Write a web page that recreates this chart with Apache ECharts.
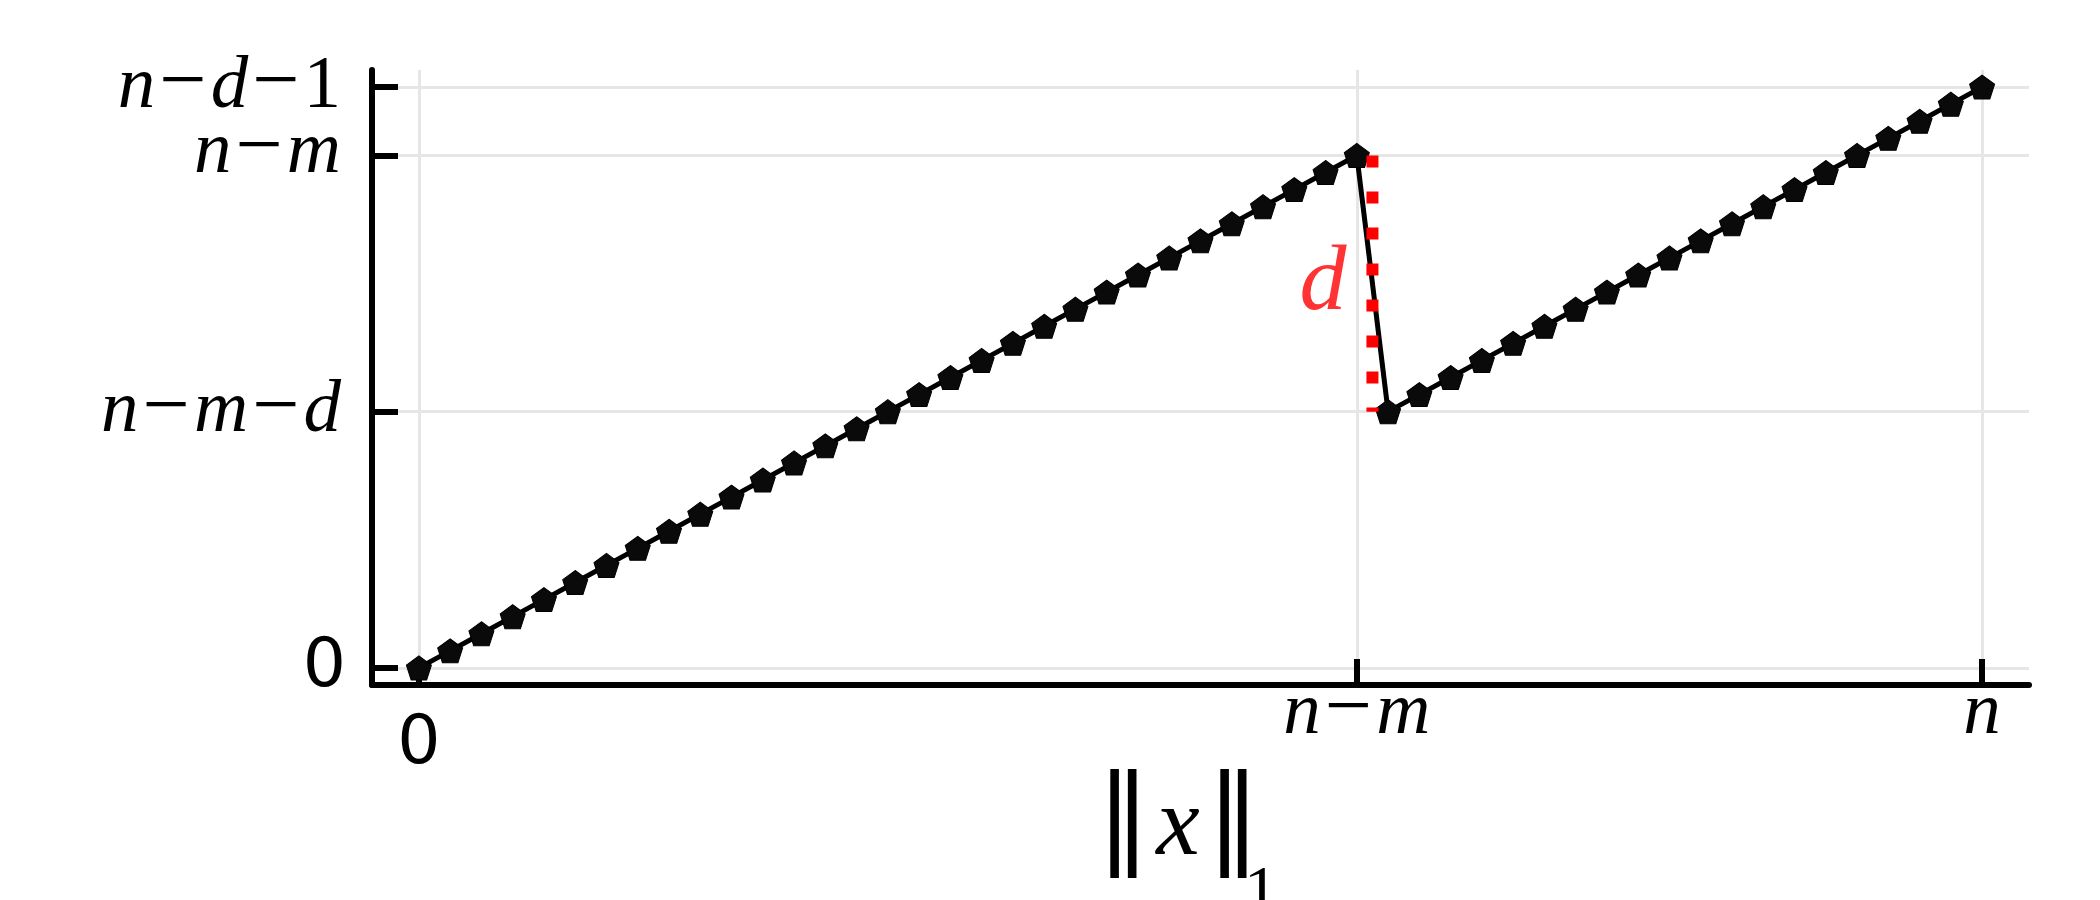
<!DOCTYPE html>
<html>
<head>
<meta charset="utf-8">
<script src="https://cdn.jsdelivr.net/npm/echarts@6/dist/echarts.min.js"></script>
<style>html,body{margin:0;padding:0;background:#fff}#c{width:2100px;height:900px}</style>
</head>
<body>
<div id="c"></div>
<script>
// ---- data ----
const xValues = [0,1,2,3,4,5,6,7,8,9,10,11,12,13,14,15,16,17,18,19,20,21,22,23,24,25,26,27,28,29,30,31,32,33,34,35,36,37,38,39,40,41,42,43,44,45,46,47,48,49,50];
const yValues = [0,1,2,3,4,5,6,7,8,9,10,11,12,13,14,15,16,17,18,19,20,21,22,23,24,25,26,27,28,29,30,15,16,17,18,19,20,21,22,23,24,25,26,27,28,29,30,31,32,33,34];
const xTickValues = [0, 30, 50];
const xTickLabels = ['0', 'n−m', 'n'];
const yTickValues = [0, 15, 30, 34];
const yTickLabels = ['0', 'n−m−d', 'n−m', 'n−d−1'];
const jumpGuideX = [30.5, 30.5];
const jumpGuideY = [30, 15];
const jumpLabel = 'd';
const jumpLabelPos = [28.92, 22.44];

// ---- label helpers ----
const SERIF = 'Liberation Serif';
const SANS = 'DejaVu Sans';
function kindOf(ch, label) {
  if (ch === '−') return 'mi';
  if (/[0-9]/.test(ch)) return label === '0' ? 'zs' : 'rm';
  return 'it';
}
function richLabel(label, key) {
  let out = '';
  for (const ch of label) out += '{' + kindOf(ch, label) + key + '|' + ch + '}';
  return out;
}
function makeRich(keys, pads) {
  const rich = {};
  keys.forEach((k, i) => {
    const p = pads[i];
    rich['it' + k] = {fontFamily: SERIF, fontStyle: 'italic', fontSize: 75, color: '#000', lineHeight: 40, padding: [p[0], 0, p[2], 0]};
    rich['rm' + k] = {fontFamily: SERIF, fontSize: 75, color: '#000', lineHeight: 40, padding: [p[0], 0, p[2], 0]};
    rich['mi' + k] = {fontFamily: SERIF, fontSize: 84, color: '#000', lineHeight: 40, padding: [p[0], 4, p[2] + 4, 4]};
    rich['zs' + k] = {fontFamily: SANS, fontSize: 68, color: '#000', lineHeight: 40, padding: p};
  });
  return rich;
}
const xKeys = xTickLabels.map((_, i) => 'x' + i);
const yKeys = yTickLabels.map((_, i) => 'y' + i);
const xPads = [[64, 0, 0, 0], [0, 0, 0, 0], [0, 0, 0, 0]];
const yPads = [[0, -5, 0, 0], [0, 0, 0, 0], [0, 0, 6, 0], [0, 0, 0, 0]];
function xFmt(v) { const i = xTickValues.indexOf(v); return i < 0 ? '' : richLabel(xTickLabels[i], xKeys[i]); }
function yFmt(v) { const i = yTickValues.indexOf(v); return i < 0 ? '' : richLabel(yTickLabels[i], yKeys[i]); }
const yMainTicks = yTickValues.slice(0, 3);
const yTopTicks = yTickValues.slice(3);

const pentagon = 'path://M0,-10L9.511,-3.09L5.878,8.09L-5.878,8.09L-9.511,-3.09Z';
const gridLine = {show: true, lineStyle: {color: '#e6e6e6', width: 3}};
const tickStyle = {color: '#000', width: 6};

function yAxisFor(ticks, showLine) {
  return {
    type: 'value', min: -1, max: 35, position: 'left', offset: 0,
    axisLine: {show: showLine, onZero: false, lineStyle: {color: '#000', width: 6}},
    axisTick: {show: true, inside: true, length: 26, customValues: ticks, lineStyle: tickStyle},
    axisLabel: {show: true, customValues: ticks, margin: 31, hideOverlap: false, formatter: yFmt, rich: makeRich(yKeys, yPads)},
    splitLine: gridLine
  };
}

const chart = echarts.init(document.getElementById('c'), null, {renderer: 'canvas'});
chart.setOption({
  animation: false,
  backgroundColor: '#fff',
  grid: {left: 372, right: 71, top: 70, bottom: 215, containLabel: false},
  xAxis: {
    type: 'value', min: -1.5, max: 51.5,
    axisLine: {onZero: false, lineStyle: {color: '#000', width: 6}},
    axisTick: {inside: true, length: 26, customValues: xTickValues, lineStyle: tickStyle},
    axisLabel: {customValues: xTickValues, margin: 8, hideOverlap: false, formatter: xFmt, rich: makeRich(xKeys, xPads)},
    splitLine: gridLine
  },
  yAxis: [yAxisFor(yMainTicks, true), yAxisFor(yTopTicks, false)],
  graphic: [
    {type: 'text', x: 1123.5, y: 824, style: {text: '‖', fontFamily: 'DejaVu Serif', fontSize: 109, fill: '#000', align: 'center', verticalAlign: 'middle'}},
    {type: 'text', x: 1178, y: 828, style: {text: 'x', fontFamily: SERIF, fontStyle: 'italic', fontSize: 98, fill: '#000', align: 'center', verticalAlign: 'middle'}},
    {type: 'text', x: 1233.5, y: 824, style: {text: '‖', fontFamily: 'DejaVu Serif', fontSize: 109, fill: '#000', align: 'center', verticalAlign: 'middle'}},
    {type: 'text', x: 1261, y: 894, style: {text: '1', fontFamily: SERIF, fontSize: 68, fill: '#000', align: 'center', verticalAlign: 'middle'}}
  ],
  series: [
    {
      type: 'line',
      data: xValues.map((x, i) => [x, yValues[i]]),
      symbol: pentagon, symbolSize: [25, 24],
      itemStyle: {color: '#0a0a0a', borderColor: '#000', borderWidth: 1},
      lineStyle: {color: '#000', width: 5},
      z: 3
    },
    {
      type: 'line',
      data: jumpGuideX.map((x, i) => [x, jumpGuideY[i]]),
      symbol: 'none',
      lineStyle: {color: '#ff0000', width: 12, type: [12, 24], cap: 'butt'},
      z: 4
    },
    {
      type: 'scatter',
      data: [jumpLabelPos],
      symbolSize: 0,
      label: {show: true, position: 'inside', formatter: jumpLabel, fontFamily: SERIF, fontStyle: 'italic', fontSize: 94, color: '#ff0000'},
      z: 5
    }
  ]
});
</script>
</body>
</html>
